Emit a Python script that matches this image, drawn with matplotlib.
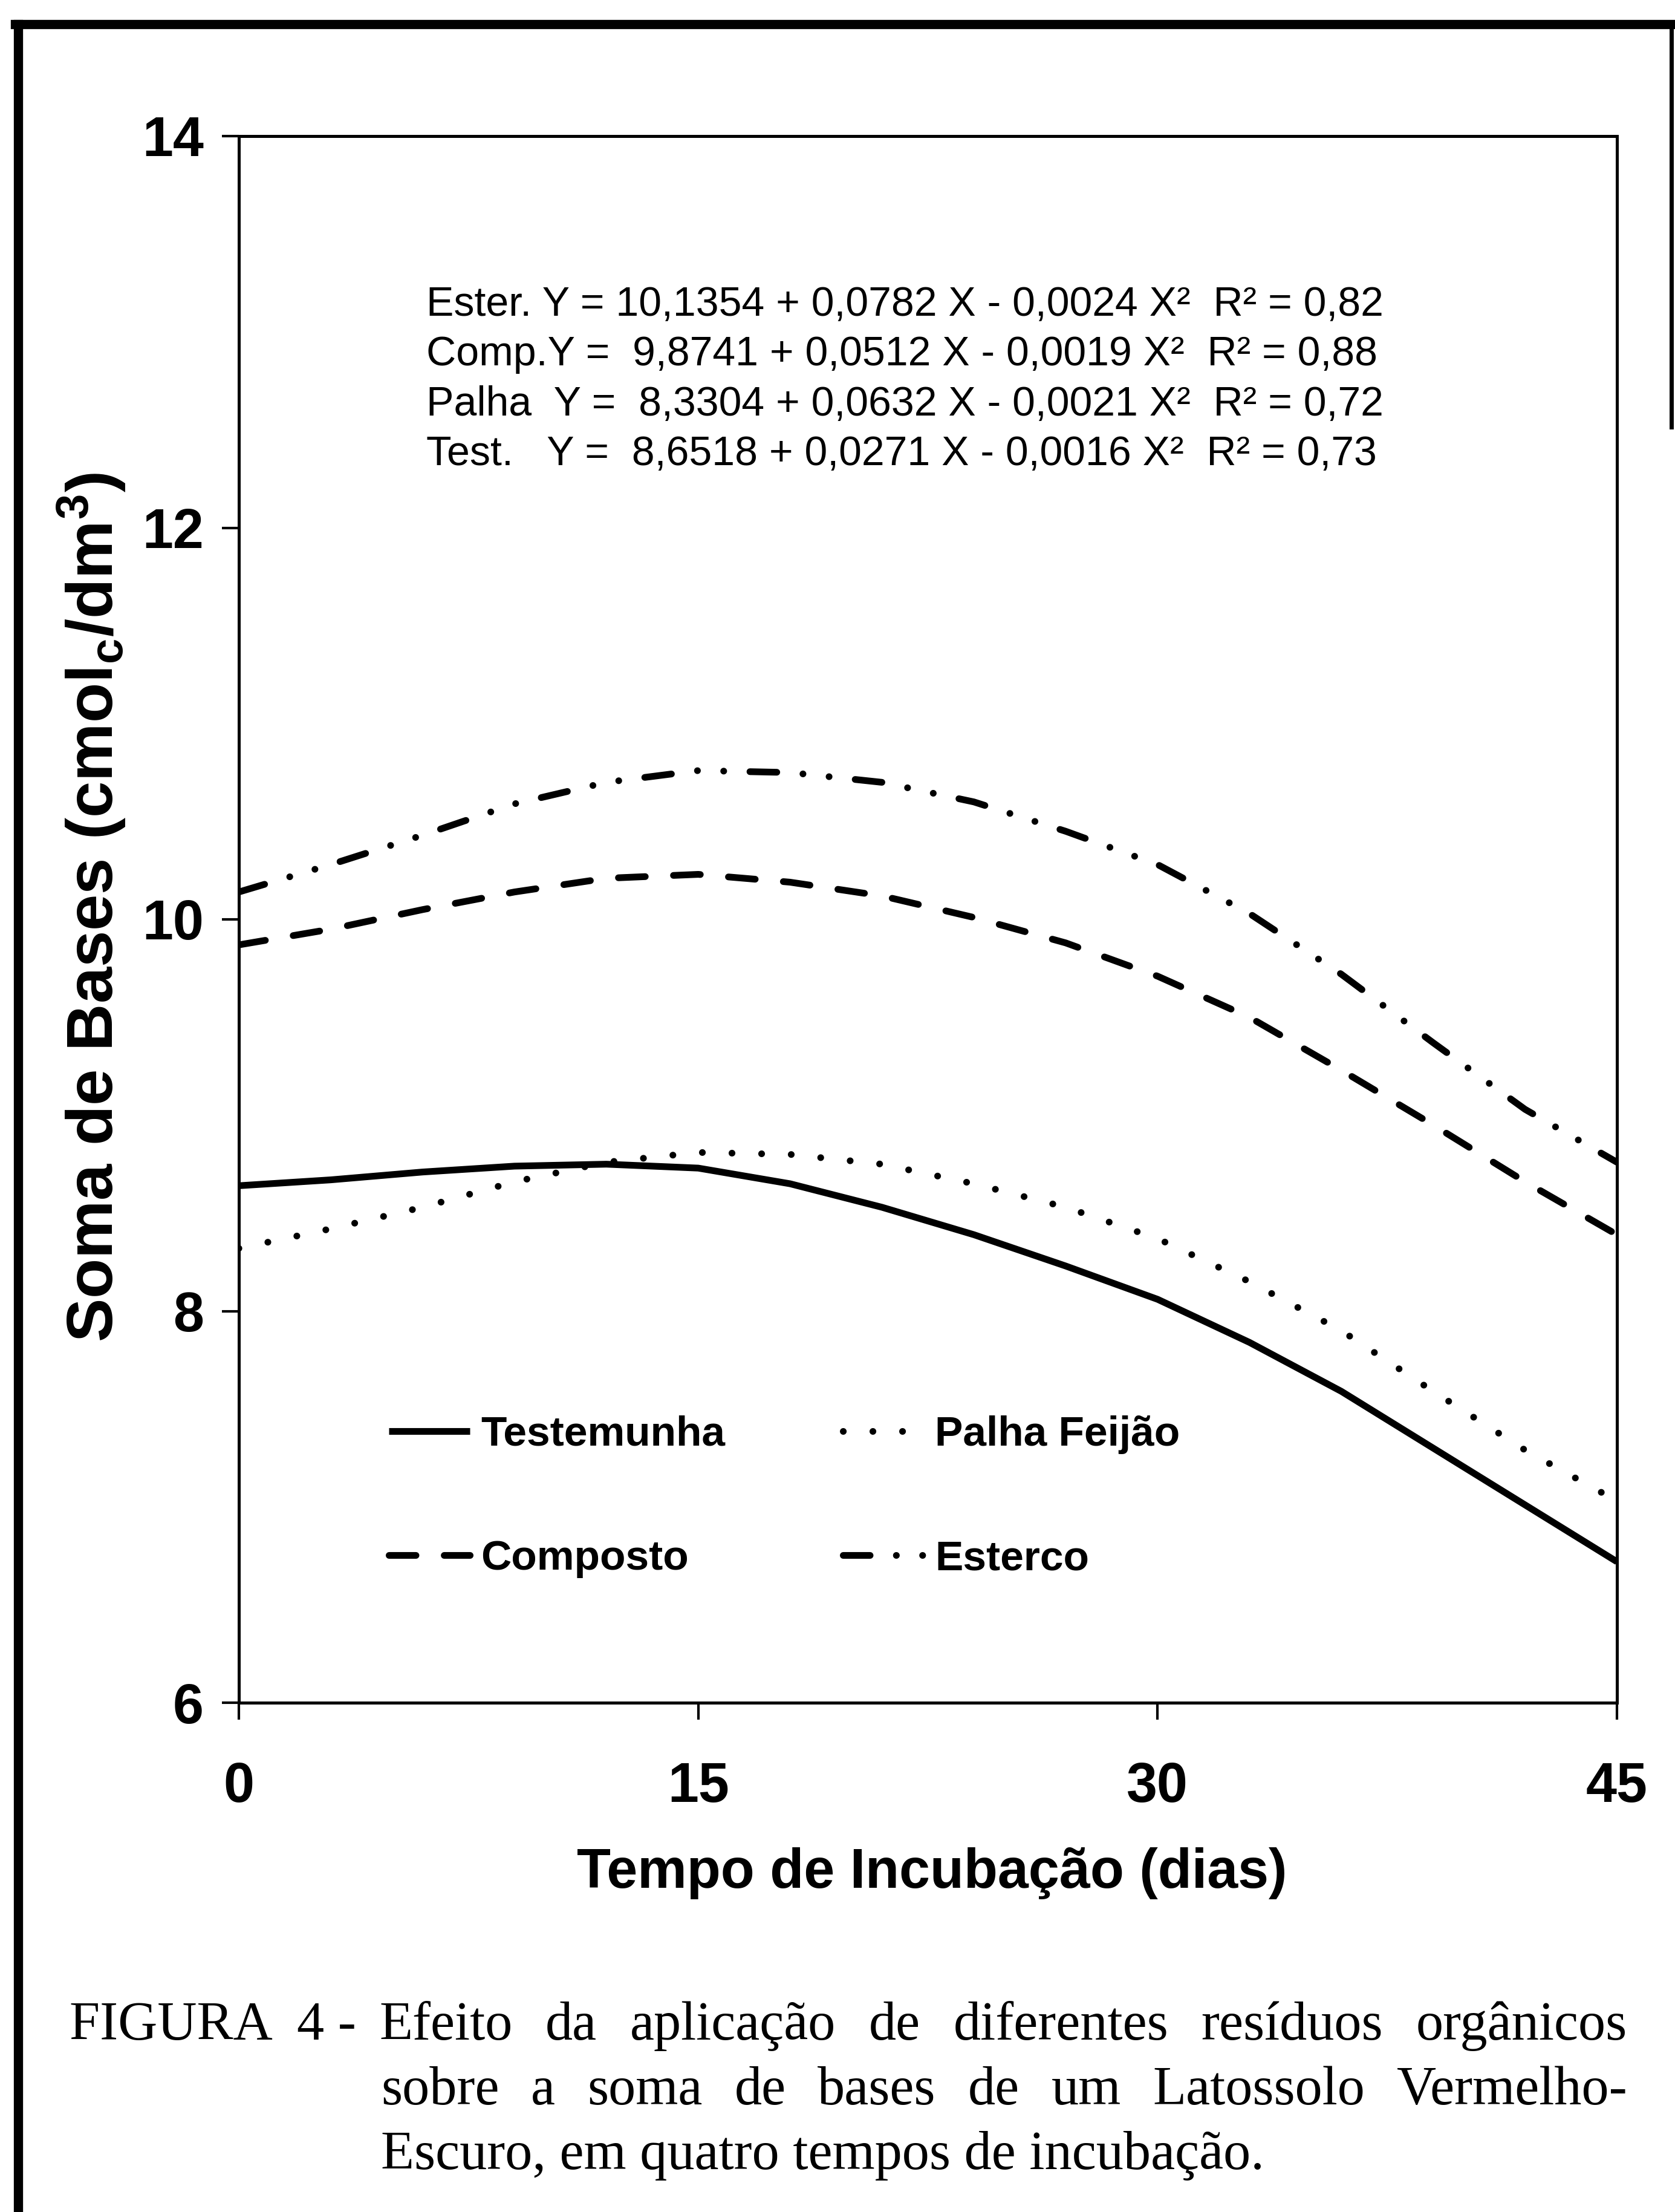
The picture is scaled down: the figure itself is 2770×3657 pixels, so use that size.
import matplotlib
matplotlib.use("Agg")
import matplotlib.pyplot as plt
from matplotlib.lines import Line2D
from matplotlib.legend import Legend

# valores (soma de bases, cmolc/dm3)
dias = [0, 3, 6, 9, 12, 15, 18, 21, 24, 27, 30, 33, 36, 39, 42, 45]
testemunha = [8.64, 8.67, 8.71, 8.74, 8.75, 8.73, 8.65, 8.53, 8.39, 8.23, 8.06, 7.84, 7.59, 7.30, 7.01, 6.72]
palha = [8.32, 8.42, 8.53, 8.66, 8.76, 8.81, 8.80, 8.75, 8.65, 8.53, 8.37, 8.15, 7.90, 7.59, 7.29, 7.03]
composto = [9.87, 9.95, 10.05, 10.14, 10.21, 10.23, 10.19, 10.12, 10.01, 9.88, 9.71, 9.50, 9.23, 8.95, 8.66, 8.39]
esterco = [10.14, 10.28, 10.43, 10.59, 10.70, 10.76, 10.75, 10.70, 10.60, 10.45, 10.28, 10.03, 9.72, 9.37, 9.03, 8.76]

x_ticks = [0, 15, 30, 45]
y_ticks = [6, 8, 10, 12, 14]

equacoes = [
    "Ester. Y = 10,1354 + 0,0782 X - 0,0024 X\u00b2  R\u00b2 = 0,82",
    "Comp.Y =  9,8741 + 0,0512 X - 0,0019 X\u00b2  R\u00b2 = 0,88",
    "Palha  Y =  8,3304 + 0,0632 X - 0,0021 X\u00b2  R\u00b2 = 0,72",
    "Test.   Y =  8,6518 + 0,0271 X - 0,0016 X\u00b2  R\u00b2 = 0,73",
]

W, H = 2770, 3657
SANS = "Liberation Sans"
SERIF = "Liberation Serif"

plt.rcParams["font.family"] = [SANS, "DejaVu Sans"]
plt.rcParams["mathtext.default"] = "regular"


def fx(px):
    return px / W


def fy(py):
    return 1 - py / H


fig = plt.figure(figsize=(W / 100, H / 100), dpi=100)
fig.patch.set_facecolor("white")
ax = fig.add_axes([fx(395), fy(2815), (2674 - 395) / W, (2815 - 225) / H])

lw = 8
h_test, = ax.plot(dias, testemunha, color="black", lw=lw, solid_capstyle="butt",
                  solid_joinstyle="round")
h_palha, = ax.plot(dias, palha, color="black", lw=lw,
                   linestyle=(0, (0.01, 4.4)), dash_capstyle="round")
h_comp, = ax.plot(dias, composto, color="black", lw=lw,
                  linestyle=(0, (4.0, 4.2)), dash_capstyle="round")
h_est, = ax.plot(dias, esterco, color="black", lw=lw,
                 linestyle=(0, (4.0, 3.9, 0.01, 3.9, 0.01, 3.9)), dash_capstyle="round")

ax.set_xlim(0, 45)
ax.set_ylim(6, 14)
ax.set_xticks(x_ticks)
ax.set_yticks(y_ticks)
for s in ax.spines.values():
    s.set_linewidth(3.6)
ax.tick_params(axis="both", direction="out", length=20, width=3, colors="black")
ax.tick_params(axis="x", pad=50, labelsize=66)
ax.tick_params(axis="y", pad=22, labelsize=66)
for lab in ax.get_xticklabels() + ax.get_yticklabels():
    lab.set_fontweight("bold")

# legenda em duas colunas, uma entrada por posição
leg_font = {"family": SANS, "weight": "bold", "size": 50}
entradas = [
    (h_test, "Testemunha", 643, 2372),
    (h_palha, "Palha Feijão", 1394, 2372),
    (h_comp, "Composto", 643, 2577),
    (h_est, "Esterco", 1394, 2577),
]
for h, nome, px, py in entradas:
    leg = Legend(ax, [h], [nome], loc="center left",
                 bbox_to_anchor=(fx(px), fy(py)), bbox_transform=fig.transFigure,
                 frameon=False, borderpad=0, borderaxespad=0,
                 handlelength=1.93, handletextpad=0.26, prop=leg_font)
    ax.add_artist(leg)

# equações de regressão
for i, eq in enumerate(equacoes):
    fig.text(fx(705), fy(522 + 82.5 * i), eq, fontsize=49, family=SANS,
             va="baseline", ha="left")

# rótulos dos eixos
fig.text(fx(1541), fy(3121), "Tempo de Incubação (dias)", fontsize=66,
         fontweight="bold", family=SANS, ha="center", va="baseline")
fig.text(fx(187), fy(1500), "Soma de Bases (cmol$_c$/dm$^3$)", fontsize=78,
         fontweight="bold", family=SANS, rotation=90, rotation_mode="anchor",
         ha="center", va="baseline")

# legenda da figura (justificada)
renderer = fig.canvas.get_renderer()


def linha_justificada(texto, x0, x1, y, size):
    palavras = texto.split()
    objs = [fig.text(0, fy(y), p, fontsize=size, family=SERIF, va="baseline")
            for p in palavras]
    larg = [t.get_window_extent(renderer).width for t in objs]
    gap = (x1 - x0 - sum(larg)) / (len(objs) - 1)
    x = x0
    for t, w in zip(objs, larg):
        t.set_x(fx(x))
        x += w + gap


cap_size = 65
fig.text(fx(115), fy(3372), "FIGURA  4 -", fontsize=cap_size, family=SERIF, va="baseline")
linha_justificada("Efeito da aplicação de diferentes resíduos orgânicos", 627, 2691, 3372, cap_size)
linha_justificada("sobre a soma de bases de um Latossolo Vermelho-", 630, 2691, 3479, cap_size)
fig.text(fx(630), fy(3586), "Escuro, em quatro tempos de incubação.", fontsize=cap_size,
         family=SERIF, va="baseline")

# moldura externa
fig.add_artist(Line2D([fx(30), fx(30)], [fy(40), fy(H)], color="black", lw=11,
                      transform=fig.transFigure))
fig.add_artist(Line2D([fx(25), fx(2765)], [fy(40), fy(40)], color="black", lw=11,
                      transform=fig.transFigure))
fig.add_artist(Line2D([fx(2764), fx(2764)], [fy(36), fy(706)], color="black", lw=5,
                      transform=fig.transFigure))

fig.savefig("out.png", dpi=100, facecolor="white")
